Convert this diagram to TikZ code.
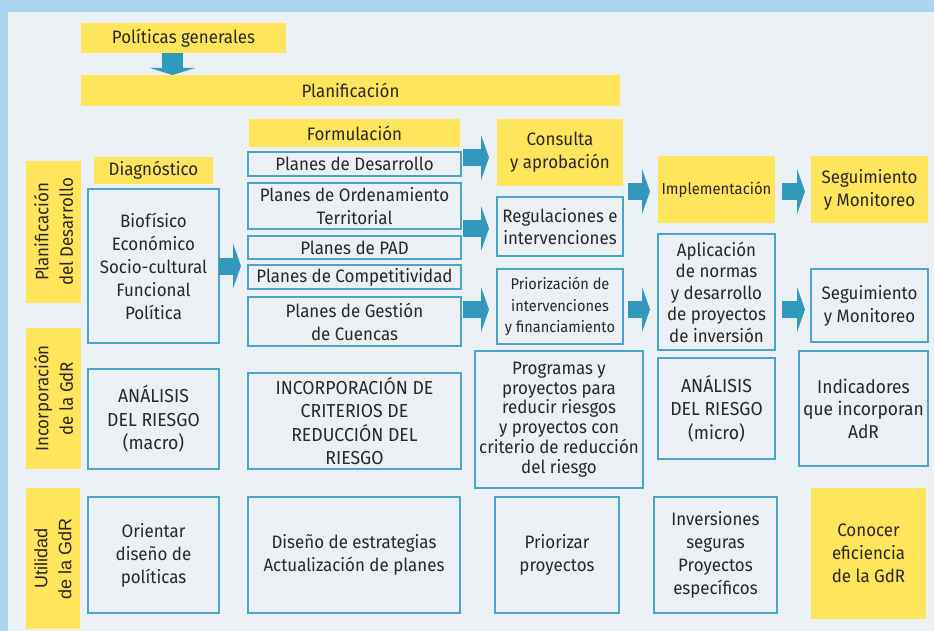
\documentclass[tikz,border=0pt]{standalone}
\usepackage{fontspec}
\setmainfont[FakeStretch=0.94]{Fira Sans}
\newfontfamily\arialf{Liberation Sans}
\usetikzlibrary{arrows.meta,calc}
\definecolor{bgc}{HTML}{EBF0F4}
\definecolor{bandc}{HTML}{A9D6EE}
\definecolor{yel}{HTML}{FFE55C}
\definecolor{bord}{HTML}{4BA5C9}
\definecolor{arr}{HTML}{3399BC}
\definecolor{txt}{HTML}{2A2827}
\begin{document}
\begin{tikzpicture}[x=1pt,y=-1pt,
  every node/.style={font=\fontsize{18}{23}\selectfont, text=txt, inner sep=0pt, outer sep=0pt, align=center},
  sz/.style 2 args={minimum width=#1pt, minimum height=#2pt},
  ybox/.style={fill=yel, draw=none, anchor=north west},
  bbox/.style={draw=bord, line width=1.3pt, anchor=north west},
  capsfont/.style={font=\fontsize{18.8}{23.3}\selectfont},
  vlab/.style={fill=yel, draw=none, rotate=90, anchor=center},
  bigarrow/.style={draw=arr, line width=17pt, -{Triangle[length=8pt,width=45pt]}},
  downarrow/.style={draw=arr, line width=21pt, -{Triangle[length=7pt,width=45pt]}}]
\useasboundingbox (0,0) rectangle (934,631);
\fill[bgc] (0,0) rectangle (934,631);
\fill[bandc] (0,0) rectangle (934,12);
\fill[bandc] (0,0) rectangle (8,631);

% top
\node[ybox, sz={205}{30}] (polgen) at (81,23) {Políticas generales};
\node[ybox, sz={539}{31}] (plan) at (81,75) {Planificación};
\coordinate (d1) at (172.5,0);
\draw[downarrow] (polgen.south -| d1) -- (plan.north -| d1);

% row labels
\node[vlab, sz={142}{55}, font=\fontsize{18}{24.5}\selectfont] (lab1) at (53.5,232) {Planificación\\del Desarrollo};
\node[vlab, sz={141}{55}, font=\fontsize{18}{24.5}\selectfont] (lab2) at (53.5,398.5) {Incorporación\\de la GdR};
\node[vlab, sz={141}{54}, font=\arialf\fontsize{18}{24}\selectfont] (lab3) at (53,558.5) {Utilidad\\de la GdR};

% diagnostico
\node[ybox, sz={119}{27}] (diag) at (94,157) {Diagnóstico};
\node[bbox, sz={131}{154}] (bio) at (88,189) {Biofísico\\Económico\\Socio-cultural\\Funcional\\Política};

% formulacion
\node[ybox, sz={211}{28}] (form) at (249,119) {Formulación};
\node[bbox, sz={213}{24}] (pd) at (248,152) {Planes de Desarrollo};
\node[bbox, sz={213}{46}] (pot) at (248,183) {Planes de Ordenamiento\\Territorial};
\node[bbox, sz={213}{23}] (pad) at (248,236) {Planes de PAD};
\node[bbox, sz={213}{24}] (comp) at (248,265) {Planes de Competitividad};
\node[bbox, sz={213}{49}] (gest) at (248,297) {Planes de Gestión\\de Cuencas};

% consulta column
\node[ybox, sz={126}{67}] (cons) at (497,119) {Consulta\\y aprobación};
\node[bbox, sz={126}{59}, font=\fontsize{18}{21.7}\selectfont] (reg) at (497,197) {Regulaciones e\\intervenciones};
\node[bbox, sz={126}{75}, font=\fontsize{15.5}{21.7}\selectfont] (prior) at (497,269) {Priorización de\\intervenciones\\y financiamiento};

% implementacion column
\node[ybox, sz={117}{67}, font=\fontsize{15.8}{20}\selectfont] (impl) at (658,156) {Implementación};
\node[bbox, sz={117}{116}, font=\fontsize{18}{21.5}\selectfont] (apl) at (658,234) {Aplicación\\de normas\\y desarrollo\\de proyectos\\de inversión};

% seguimiento column
\node[ybox, sz={117}{67}] (seg1) at (811,156) {Seguimiento\\y Monitoreo};
\node[bbox, sz={117}{73}] (seg2) at (811,269) {Seguimiento\\y Monitoreo};
\node[bbox, sz={129}{115}, font=\fontsize{18.5}{22.5}\selectfont] (ind) at (799,351) {Indicadores\\que incorporan\\AdR};

% risk row
\node[bbox, sz={131}{100}, capsfont] (anma) at (88,369) {ANÁLISIS\\DEL RIESGO\\(macro)};
\node[bbox, sz={213}{96}, capsfont] (incorp) at (248,373) {INCORPORACIÓN DE\\CRITERIOS DE\\REDUCCIÓN DEL\\RIESGO};
\node[bbox, sz={168}{137}, font=\fontsize{18}{19.8}\selectfont] (prog) at (475,351) {Programas y\\proyectos para\\reducir riesgos\\y proyectos con\\criterio de reducción\\del riesgo};
\node[bbox, sz={117}{101}, capsfont] (anmi) at (658,358) {ANÁLISIS\\DEL RIESGO\\(micro)};

% utility row
\node[bbox, sz={131}{116}] (ori) at (88,497) {Orientar\\diseño de\\políticas};
\node[bbox, sz={212}{116}] (dis) at (248,497) {Diseño de estrategias\\Actualización de planes};
\node[bbox, sz={124}{116}] (pri2) at (495,497) {Priorizar\\proyectos};
\node[bbox, sz={123}{116}] (inv) at (654,497) {Inversiones\\seguras\\Proyectos\\específicos};
\node[ybox, sz={115}{131}] (con) at (811,488) {Conocer\\eficiencia\\de la GdR};

% arrows
\draw[bigarrow] (bio.east) -- ($(bio.east -| comp.west)+(-7,0)$);
\draw[bigarrow] ($(pd.east |- cons.west)+(2,5)$) -- ($(cons.west)+(-8,5)$);
\draw[bigarrow] ($(pot.east |- reg.west)+(2,2)$) -- ($(reg.west)+(-8,2)$);
\draw[bigarrow] ($(gest.east |- prior.west)+(2,3)$) -- ($(prior.west)+(-8,3)$);
\draw[bigarrow] ($(cons.east |- impl.west)+(5,2)$) -- ($(impl.west)+(-8,2)$);
\draw[bigarrow] ($(impl.east)+(7,2)$) -- ($(seg1.west)+(-6,2)$);
\draw[bigarrow] ($(prior.east)+(5,3)$) -- ($(prior.east -| apl.west)+(-8,3)$);
\draw[bigarrow] ($(seg2.west -| apl.east)+(7,4)$) -- ($(seg2.west)+(-6,4)$);
\end{tikzpicture}
\end{document}
